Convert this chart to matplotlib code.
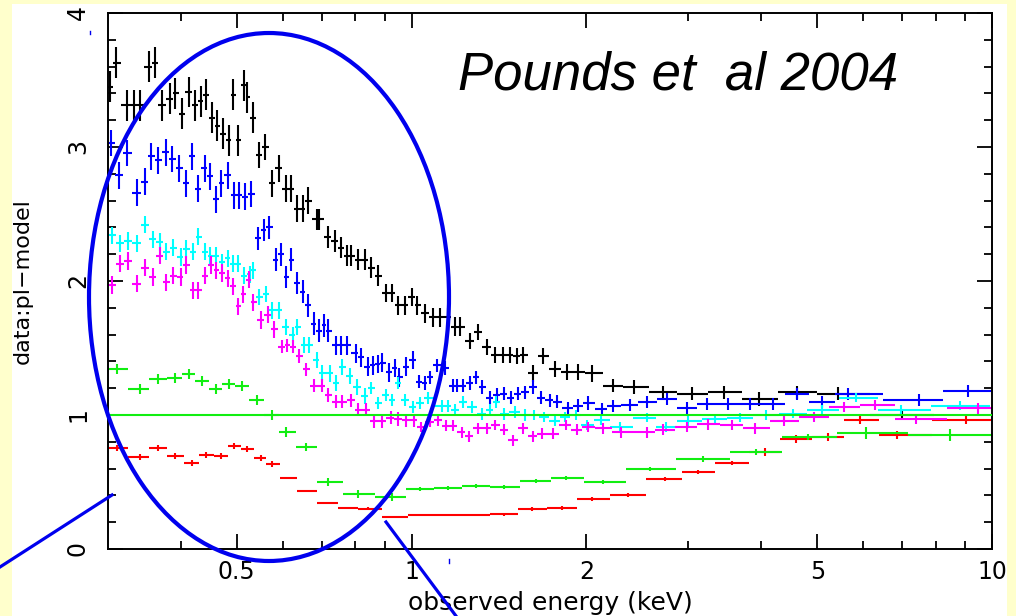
import numpy as np
import matplotlib
matplotlib.use("Agg")
import matplotlib.pyplot as plt
from matplotlib.patches import Ellipse, Rectangle
from matplotlib.lines import Line2D

# ratio data:pl-model, energies in keV, one list per observation colour
black_e = [0.302, 0.310, 0.323, 0.332, 0.340, 0.353, 0.361, 0.372, 0.383, 0.392,
           0.403, 0.413, 0.423, 0.433, 0.443, 0.454, 0.463, 0.474, 0.484, 0.493,
           0.503, 0.515, 0.521, 0.534, 0.547, 0.560, 0.576, 0.590, 0.607, 0.621,
           0.636, 0.649, 0.664, 0.686, 0.694, 0.717, 0.737, 0.755, 0.773, 0.788,
           0.810, 0.830, 0.853, 0.874, 0.902, 0.927, 0.946, 0.973, 1.000, 1.024,
           1.053, 1.087, 1.118, 1.154, 1.186, 1.210, 1.259, 1.300, 1.347, 1.390,
           1.435, 1.476, 1.517, 1.554, 1.617, 1.682, 1.764, 1.850, 1.933, 2.05,
           2.22, 2.42, 2.71, 3.04, 3.46, 3.97, 4.61, 5.43, 6.99]
black_y = [3.45, 3.63, 3.31, 3.31, 3.31, 3.60, 3.63, 3.31, 3.36, 3.40,
           3.25, 3.41, 3.31, 3.34, 3.39, 3.22, 3.16, 3.10, 3.05, 3.39,
           3.05, 3.46, 3.37, 3.22, 2.94, 3.00, 2.73, 2.84, 2.69, 2.69,
           2.54, 2.54, 2.60, 2.46, 2.46, 2.33, 2.30, 2.25, 2.19, 2.19,
           2.16, 2.16, 2.10, 2.04, 1.91, 1.91, 1.82, 1.82, 1.88, 1.82,
           1.76, 1.73, 1.73, 1.73, 1.66, 1.66, 1.55, 1.62, 1.51, 1.45,
           1.45, 1.45, 1.44, 1.45, 1.31, 1.44, 1.34, 1.32, 1.32, 1.31,
           1.22, 1.21, 1.17, 1.16, 1.17, 1.12, 1.17, 1.16, 1.00]
black_err = [0.115] * 24 + [0.10] * 9 + [0.08] * 11 + [0.07] * 12 + [0.06] * 14 + [0.05] * 8 + [0.03]

blue_e = [0.304, 0.314, 0.324, 0.336, 0.347, 0.356, 0.366, 0.378, 0.387, 0.398,
          0.409, 0.419, 0.429, 0.440, 0.450, 0.461, 0.470, 0.482, 0.495, 0.505,
          0.517, 0.530, 0.543, 0.556, 0.569, 0.585, 0.595, 0.609, 0.619, 0.634,
          0.649, 0.662, 0.678, 0.694, 0.708, 0.719, 0.742, 0.757, 0.773, 0.801,
          0.817, 0.840, 0.857, 0.874, 0.891, 0.916, 0.935, 0.953, 0.980, 1.004,
          1.032, 1.053, 1.074, 1.105, 1.140, 1.177, 1.196, 1.225, 1.259, 1.289,
          1.320, 1.363, 1.401, 1.441, 1.482, 1.523, 1.566, 1.616, 1.669, 1.729,
          1.778, 1.857, 1.933, 2.011, 2.126, 2.220, 2.376, 2.54, 2.75, 2.98,
          3.225, 3.506, 3.826, 4.19, 4.61, 5.09, 5.65, 7.48, 9.09]
blue_y = [3.03, 2.79, 2.955, 2.66, 2.74, 2.93, 2.90, 2.96, 2.91, 2.84,
          2.73, 2.93, 2.69, 2.84, 2.78, 2.61, 2.73, 2.79, 2.64, 2.64,
          2.63, 2.65, 2.32, 2.38, 2.40, 2.16, 2.20, 2.03, 2.16, 1.985,
          1.92, 1.82, 1.68, 1.63, 1.67, 1.63, 1.52, 1.52, 1.52, 1.46,
          1.43, 1.36, 1.37, 1.38, 1.39, 1.32, 1.35, 1.28, 1.36, 1.41,
          1.25, 1.24, 1.28, 1.37, 1.35, 1.22, 1.22, 1.22, 1.24, 1.28,
          1.21, 1.13, 1.15, 1.16, 1.13, 1.16, 1.17, 1.21, 1.13, 1.11,
          1.10, 1.05, 1.07, 1.09, 1.045, 1.07, 1.075, 1.10, 1.12, 1.05,
          1.08, 1.08, 1.08, 1.08, 1.16, 1.10, 1.16, 1.11, 1.18]
blue_err = [0.10] * 22 + [0.085] * 14 + [0.07] * 14 + [0.05] * 24 + [0.045] * 15

cyan_e = [0.305, 0.315, 0.325, 0.336, 0.347, 0.358, 0.368, 0.378, 0.389, 0.400,
          0.409, 0.421, 0.429, 0.441, 0.450, 0.461, 0.472, 0.482, 0.493, 0.503,
          0.515, 0.526, 0.534, 0.547, 0.562, 0.576, 0.590, 0.607, 0.624, 0.636,
          0.654, 0.667, 0.686, 0.702, 0.725, 0.742, 0.760, 0.782, 0.804, 0.830,
          0.853, 0.877, 0.902, 0.927, 0.946, 0.976, 1.004, 1.036, 1.066, 1.127,
          1.154, 1.186, 1.225, 1.269, 1.320, 1.363, 1.40, 1.445, 1.505, 1.566,
          1.623, 1.689, 1.764, 1.835, 1.917, 2.003, 2.118, 2.283, 2.54, 2.74,
          3.00, 3.33, 3.68, 4.08, 4.54, 5.09, 5.83, 6.97, 8.81]
cyan_y = [2.34, 2.28, 2.30, 2.28, 2.42, 2.31, 2.29, 2.22, 2.25, 2.18,
          2.24, 2.22, 2.33, 2.22, 2.19, 2.19, 2.14, 2.17, 2.13, 2.13,
          2.04, 2.05, 2.08, 1.88, 1.90, 1.78, 1.78, 1.66, 1.60, 1.66,
          1.52, 1.52, 1.41, 1.31, 1.31, 1.24, 1.36, 1.29, 1.21, 1.14,
          1.20, 1.09, 1.15, 1.11, 1.24, 1.11, 1.06, 1.09, 1.13, 1.07,
          1.07, 1.04, 1.10, 1.06, 1.01, 1.04, 1.10, 1.01, 1.02, 1.00,
          1.00, 0.985, 0.955, 0.985, 1.00, 0.925, 0.963, 0.91, 0.98, 0.91,
          0.955, 0.97, 0.98, 1.00, 1.01, 1.04, 1.13, 1.04, 1.07]
cyan_err = [0.065] * 23 + [0.06] * 17 + [0.045] * 20 + [0.035] * 19

magenta_e = [0.305, 0.315, 0.325, 0.336, 0.347, 0.358, 0.368, 0.378, 0.389, 0.400,
             0.409, 0.421, 0.429, 0.441, 0.452, 0.461, 0.472, 0.482, 0.493, 0.503,
             0.513, 0.524, 0.534, 0.551, 0.565, 0.580, 0.599, 0.611, 0.626, 0.641,
             0.659, 0.680, 0.700, 0.719, 0.742, 0.760, 0.788, 0.810, 0.836, 0.863,
             0.891, 0.920, 0.946, 0.980, 1.008, 1.040, 1.074, 1.109, 1.145, 1.177,
             1.220, 1.254, 1.300, 1.347, 1.395, 1.441, 1.497, 1.554, 1.616, 1.675,
             1.75, 1.843, 1.925, 2.011, 2.135, 2.30, 2.54, 2.71, 2.98, 3.24,
             3.56, 3.90, 4.39, 4.93, 5.56, 6.29, 7.39, 9.46]
magenta_y = [1.97, 2.13, 2.15, 1.98, 2.10, 2.03, 2.19, 1.99, 2.04, 2.03,
             2.12, 1.93, 1.93, 2.04, 2.12, 2.08, 2.06, 2.02, 1.96, 1.81,
             1.90, 2.01, 1.84, 1.71, 1.75, 1.64, 1.51, 1.52, 1.51, 1.44,
             1.34, 1.22, 1.22, 1.15, 1.10, 1.10, 1.11, 1.04, 1.04, 0.955,
             0.955, 0.98, 0.97, 0.96, 0.96, 0.91, 0.95, 0.96, 0.92, 0.92,
             0.87, 0.84, 0.90, 0.90, 0.925, 0.89, 0.81, 0.90, 0.84, 0.86,
             0.86, 0.925, 0.89, 0.91, 0.90, 0.87, 0.87, 0.89, 0.91, 0.93,
             0.925, 0.90, 0.955, 0.985, 1.06, 1.075, 0.97, 1.05]
magenta_err = [0.065] * 26 + [0.05] * 19 + [0.04] * 19 + [0.04] * 14

green_e = [0.311, 0.340, 0.366, 0.392, 0.413, 0.436, 0.461, 0.484, 0.511, 0.541,
           0.574, 0.609, 0.657, 0.719, 0.810, 0.924, 1.036, 1.154, 1.289, 1.446,
           1.636, 1.843, 2.135, 2.572, 3.18, 3.92, 4.82, 6.06, 8.46]
green_y = [1.343, 1.194, 1.269, 1.276, 1.306, 1.254, 1.194, 1.231, 1.216, 1.112,
           1.00, 0.873, 0.761, 0.50, 0.41, 0.388, 0.448, 0.455, 0.47, 0.463,
           0.507, 0.53, 0.50, 0.597, 0.672, 0.724, 0.836, 0.866, 0.851]
green_err = [0.035] * 12 + [0.03] * 4 + [0.012] * 8 + [0.025] * 3 + [0.045] * 2

red_e = [0.311, 0.340, 0.366, 0.392, 0.419, 0.443, 0.470, 0.495, 0.521, 0.551,
         0.574, 0.614, 0.659, 0.717, 0.776, 0.843, 0.935, 1.040, 1.154, 1.294,
         1.446, 1.61, 1.82, 2.05, 2.36, 2.73, 3.12, 3.57, 4.06, 4.59,
         5.21, 5.92, 6.87, 9.03]
red_y = [0.754, 0.687, 0.754, 0.694, 0.642, 0.701, 0.694, 0.769, 0.746, 0.679,
         0.634, 0.53, 0.433, 0.343, 0.306, 0.30, 0.24, 0.254, 0.254, 0.254,
         0.26, 0.30, 0.306, 0.373, 0.403, 0.52, 0.575, 0.642, 0.724, 0.82,
         0.836, 0.96, 0.85, 0.96]
red_err = [0.02] * 11 + [0.01] * 10 + [0.015] * 7 + [0.03] * 6

xtick_major = [0.5, 1, 2, 5, 10]
xtick_labels = ["0.5", "1", "2", "5", "10"]
xtick_minor = [0.4, 0.6, 0.7, 0.8, 0.9, 3, 4, 6, 7, 8, 9]


def bin_widths(e):
    # contiguous spectral bins: edges half way (in log) between neighbours
    e = np.asarray(e, dtype=float)
    mids = np.sqrt(e[:-1] * e[1:])
    lo = np.concatenate([[e[0] ** 2 / mids[0]], mids])
    hi = np.concatenate([mids, [e[-1] ** 2 / mids[-1]]])
    return [e - lo, hi - e]


W, H = 1016, 616
fig = plt.figure(figsize=(W / 100, H / 100), dpi=100, facecolor="#FFFFCC")
fig.add_artist(Rectangle((12 / W, 0), 995 / W, 612 / H, transform=fig.transFigure,
                         facecolor="white", edgecolor="none", zorder=0))

ax = fig.add_axes([108 / W, 67 / H, 884 / W, 536 / H])
ax.set_xscale("log")

series = [
    (black_e, black_y, black_err, "black"),
    (red_e, red_y, red_err, "#FF0000"),
    (green_e, green_y, green_err, "#11EE11"),
    (blue_e, blue_y, blue_err, "#0000FF"),
    (cyan_e, cyan_y, cyan_err, "#00FFFF"),
    (magenta_e, magenta_y, magenta_err, "#FF00FF"),
]
for e, y, err, col in series:
    ax.errorbar(e, y, xerr=bin_widths(e), yerr=err, fmt="none",
                ecolor=col, elinewidth=1.5, capsize=0)

ax.axhline(1.0, color="#11EE11", lw=1.5, zorder=5)

ax.set_xlim(0.3, 10)
ax.set_ylim(0, 4)
ax.set_xticks(xtick_major)
ax.set_xticklabels(xtick_labels)
ax.set_xticks(xtick_minor, minor=True)
ax.xaxis.set_minor_formatter(matplotlib.ticker.NullFormatter())
ax.set_yticks([0, 1, 2, 3, 4])
ax.set_yticks(np.arange(0, 4.01, 0.2), minor=True)
ax.tick_params(which="both", direction="in", top=True, right=True, width=1.3, colors="black")
ax.tick_params(which="major", length=11)
ax.tick_params(which="minor", length=6)
ax.tick_params(axis="x", which="major", labelsize=17, pad=8)
ax.tick_params(axis="y", which="major", labelsize=17, pad=13)
for lab in ax.get_yticklabels():
    lab.set_rotation(90)
    lab.set_va("center")
for sp in ax.spines.values():
    sp.set_linewidth(1.4)

ax.set_xlabel("observed energy (keV)", fontsize=18)
ax.xaxis.set_label_coords(0.5, -0.10)
ax.xaxis.label.set_va("center")
ax.set_ylabel("data:pl\u2212model", fontsize=16)
ax.yaxis.set_label_coords(-0.096, 0.5)
ax.yaxis.label.set_va("center")

fig.text(458 / W, 1 - 90 / H, "Pounds et  al 2004", fontsize=38, style="italic",
         family="Liberation Sans", va="baseline", ha="left")

# blue ellipse and pointer lines drawn on the slide
blue = "#0000EE"
fig.add_artist(Ellipse((269 / W, 1 - 297 / H), 360 / W, 528 / H, transform=fig.transFigure,
                       fill=False, edgecolor=blue, lw=3, zorder=20))
fig.add_artist(Line2D([0, 112 / W], [1 - 567 / H, 1 - 495 / H], transform=fig.transFigure,
                      color=blue, lw=2.3, zorder=20))
fig.add_artist(Line2D([386 / W, 456 / W], [1 - 522 / H, 0], transform=fig.transFigure,
                      color=blue, lw=2.3, zorder=20))
fig.add_artist(Line2D([90 / W, 90 / W], [1 - 31 / H, 1 - 34 / H], transform=fig.transFigure,
                      color=blue, lw=1, zorder=20))
fig.add_artist(Line2D([449 / W, 449 / W], [1 - 559 / H, 1 - 563 / H], transform=fig.transFigure,
                      color=blue, lw=1, zorder=20))

# slide background showing at top and right edge
fig.add_artist(Rectangle((1007 / W, 0), 9 / W, 1, transform=fig.transFigure,
                         facecolor="#FFFFCC", edgecolor="none", zorder=30))
fig.add_artist(Rectangle((0, 612 / H), 1, 4 / H, transform=fig.transFigure,
                         facecolor="#FFFFCC", edgecolor="none", zorder=30))

fig.savefig("out.png", dpi=100, facecolor=fig.get_facecolor())
